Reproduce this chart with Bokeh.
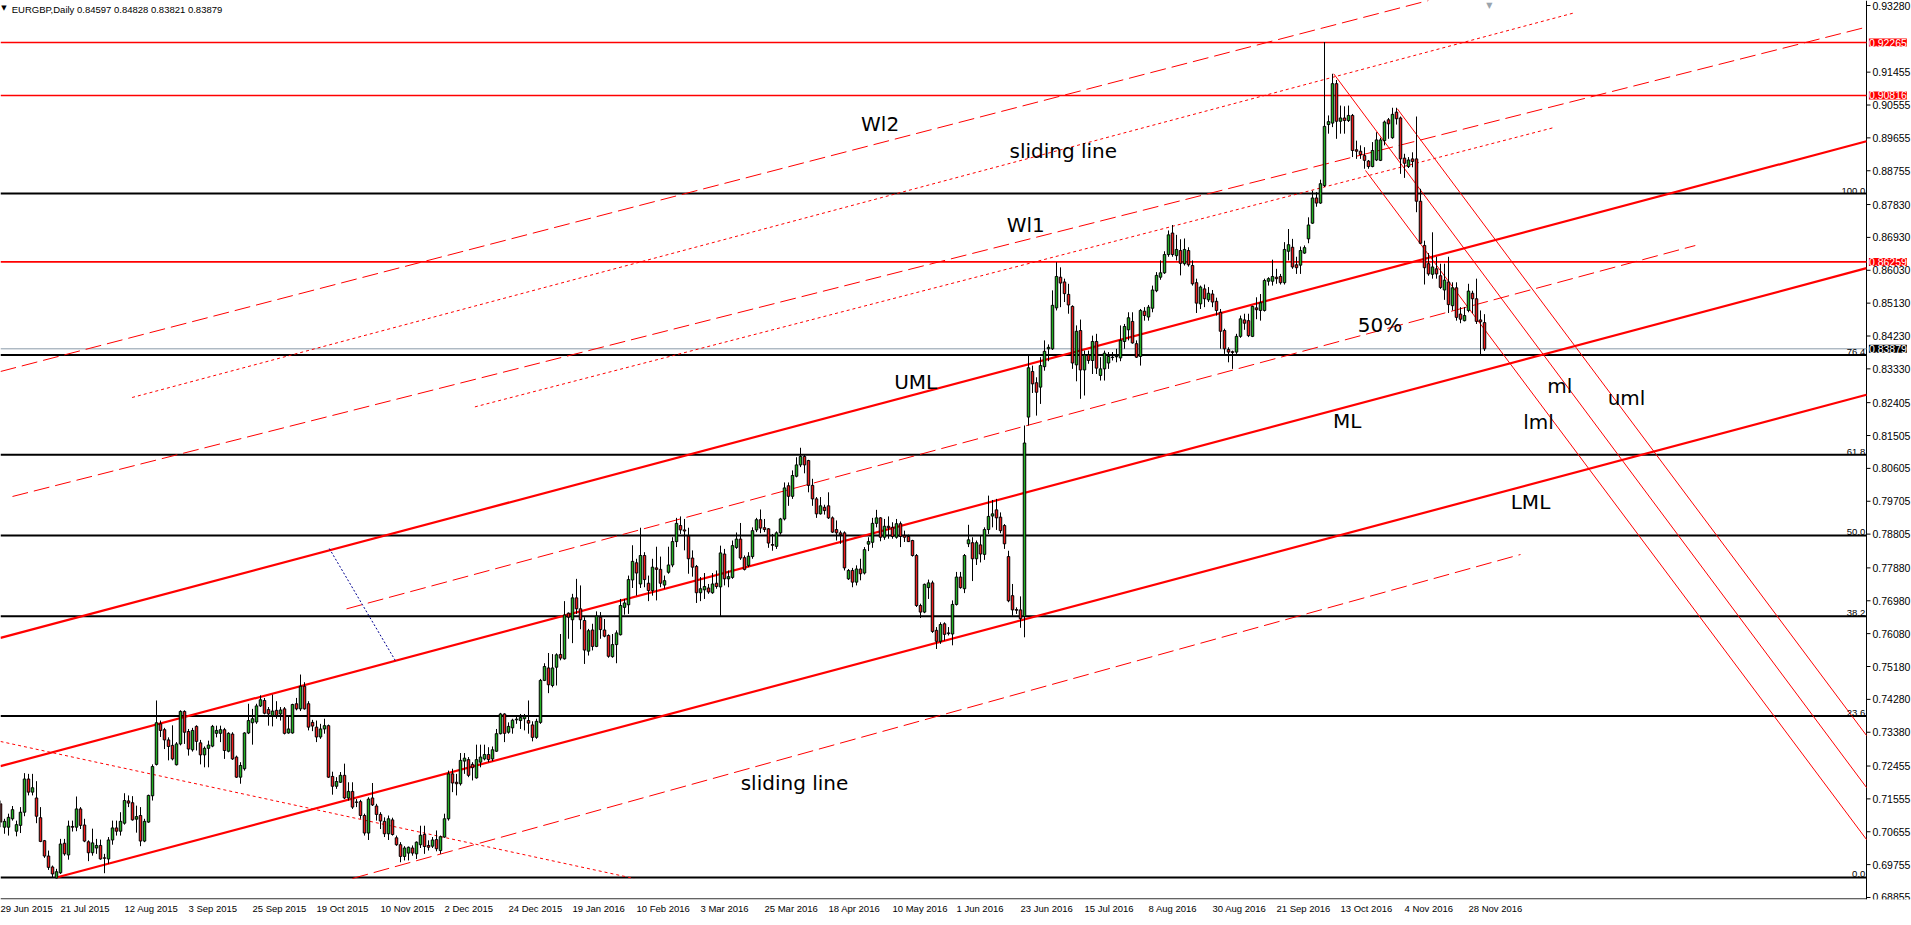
import numpy as np
import pandas as pd
from bokeh.plotting import figure
from bokeh.models import Range1d, FixedTicker, Label, ColumnDataSource
from bokeh.core.properties import value
from bokeh.embed import file_html
from bokeh.resources import INLINE

# ---------------- data ----------------
START = "2015-06-30"            # first bar on the chart (daily bars, weekdays)
HOLIDAYS = ["2015-12-25", "2016-01-01"]

opens = [
    .7142, .7078, .7078, .7101, .7067, .7083, .7119, .7210, .7174, .7158,
    .7104, .7041, .6999, .6969, .6939, .6953, .7034, .7002, .7080, .7078,
    .7128, .7084, .7038, .7008, .7021, .7028, .6994, .6991, .7043, .7076,
    .7067, .7089, .7150, .7145, .7100, .7110, .7040, .7092, .7164, .7250,
    .7361, .7345, .7317, .7302, .7249, .7306, .7395, .7340, .7290, .7354,
    .7309, .7276, .7294, .7300, .7335, .7335, .7345, .7286, .7333, .7270,
    .7215, .7238, .7336,
    .7364, .7366, .7410, .7425, .7400, .7384, .7398, .7388, .7402, .7336,
    .7336, .7416, .7402, .7464, .7416, .7365, .7352, .7325, .7347, .7356,
    .7217, .7190, .7201, .7220, .7158, .7176, .7147, .7148, .7110, .7062,
    .7158, .7136, .7113, .7094, .7060, .7098, .7049, .7030, .6998, .7007,
    .7021, .7005, .7030, .7058, .7028, .7026, .7044, .7014, .7051, .7101,
    .7224, .7201, .7197, .7259, .7263, .7250, .7213, .7256, .7265, .7277,
    .7265, .7286,
    .7334, .7388, .7338, .7350, .7372, .7370, .7375, .7370, .7358, .7324,
    .7365, .7480, .7514, .7466, .7516, .7551, .7539, .7664, .7646, .7706,
    .7676, .7644, .7560, .7618, .7573, .7653, .7618, .7603, .7545, .7578,
    .7605, .7680, .7687, .7755, .7802, .7744, .7822, .7746, .7726, .7788,
    .7784, .7741, .7776, .7796, .7860, .7904, .7892, .7875, .7815, .7792,
    .7720, .7728, .7733, .7720, .7746, .7736, .7826, .7758, .7762, .7844,
    .7867, .7816, .7795,
    .7819, .7892, .7920, .7898, .7895, .7852, .7847, .7884, .7922, .8013,
    .7984, .8039, .8070, .8093, .8082, .8014, .7977, .7936, .7954, .7958,
    .7925, .7893, .7884, .7884, .7758, .7781, .7749, .7785, .7774, .7853,
    .7858, .7910, .7925, .7872, .7902, .7899, .7872, .7909, .7877, .7874,
    .7863, .7822, .7685, .7667, .7734, .7747, .7617, .7587, .7635, .7610,
    .7607, .7688, .7763, .7731, .7854, .7857, .7813, .7851, .7825, .7893,
    .7930, .7947,
    .7927, .7904, .7819, .7712, .7674, .7673, .7655, .8201, .8326, .8295,
    .8283, .8339, .8388, .8388, .8500, .8584, .8571, .8537, .8504, .8344,
    .8438, .8330, .8371, .8356, .8408, .8315, .8333, .8349, .8365, .8366,
    .8363, .8408, .8440, .8463, .8402, .8367, .8491, .8475, .8499, .8547,
    .8584, .8596, .8646, .8705, .8643, .8657, .8621, .8657, .8616, .8569,
    .8511, .8552, .8522, .8538, .8518, .8488, .8438, .8386, .8380, .8379,
    .8422, .8467, .8465,
    .8422, .8500, .8493, .8493, .8573, .8573, .8584, .8586, .8569, .8655,
    .8666, .8618, .8617, .8650, .8689, .8732, .8801, .8787, .8835, .9002,
    .9006, .9114, .9011, .9020, .9013, .9027, .8933, .8929, .8917, .8902,
    .8887, .8905, .8904, .8958, .9015, .8966, .9036, .9020, .8910, .8887,
    .8908, .8908, .8792, .8671, .8621, .8592, .8607, .8588, .8549, .8571,
    .8506, .8555, .8483, .8465, .8493, .8540, .8525, .8467, .84597,
]

highs = [
    .7151, .7101, .7115, .7136, .7096, .7133, .7226, .7224, .7224, .7204,
    .7133, .7043, .7014, .6973, .6964, .7046, .7046, .7096, .7096, .7162,
    .7133, .7101, .7042, .7074, .7046, .7044, .7005, .7051, .7096, .7096,
    .7119, .7171, .7165, .7163, .7137, .7133, .7101, .7167, .7250, .7425,
    .7370, .7350, .7324, .7357, .7311, .7398, .7398, .7347, .7350, .7357,
    .7317, .7299, .7315, .7358, .7356, .7356, .7350, .7338, .7338, .7274,
    .7256, .7338, .7416,
    .7402, .7416, .7439, .7432, .7407, .7441, .7423, .7407, .7407, .7384,
    .7416, .7432, .7496, .7475, .7423, .7372, .7370, .7361, .7375, .7359,
    .7230, .7215, .7229, .7252, .7201, .7201, .7155, .7153, .7115, .7160,
    .7199, .7142, .7119, .7105, .7110, .7104, .7055, .7037, .7026, .7025,
    .7028, .7039, .7082, .7082, .7042, .7051, .7069, .7055, .7115, .7233,
    .7238, .7224, .7281, .7281, .7270, .7256, .7304, .7304, .7304, .7297,
    .7299, .7347,
    .7391, .7390, .7365, .7375, .7384, .7388, .7388, .7425, .7368, .7375,
    .7484, .7527, .7555, .7552, .7554, .7607, .7697, .7666, .7717, .7758,
    .7740, .7653, .7621, .7635, .7669, .7667, .7648, .7606, .7607, .7617,
    .7703, .7703, .7767, .7850, .7813, .7898, .7831, .7767, .7813, .7846,
    .7819, .7767, .7846, .7872, .7925, .7929, .7922, .7898, .7836, .7796,
    .7763, .7774, .7744, .7774, .7781, .7849, .7840, .7781, .7863, .7885,
    .7911, .7822, .7831,
    .7899, .7925, .7948, .7922, .7897, .7881, .7888, .7925, .8022, .8022,
    .8055, .8091, .8117, .8099, .8084, .8032, .7982, .7982, .7961, .7995,
    .7929, .7918, .7890, .7888, .7785, .7788, .7795, .7813, .7845, .7872,
    .7925, .7947, .7927, .7922, .7929, .7913, .7922, .7915, .7890, .7879,
    .7865, .7826, .7690, .7745, .7756, .7753, .7626, .7639, .7639, .7626,
    .7699, .7777, .7777, .7826, .7906, .7872, .7863, .7877, .7899, .7986,
    .7974, .7977,
    .7940, .7908, .7835, .7744, .7680, .7710, .8178, .8370, .8342, .8310,
    .8365, .8411, .8400, .8548, .8625, .8611, .8580, .8566, .8507, .8452,
    .8468, .8383, .8383, .8424, .8429, .8365, .8383, .8379, .8379, .8388,
    .8452, .8456, .8488, .8488, .8411, .8497, .8502, .8508, .8561, .8598,
    .8630, .8655, .8712, .8727, .8700, .8688, .8690, .8666, .8630, .8580,
    .8561, .8564, .8557, .8549, .8528, .8497, .8443, .8392, .8383, .8429,
    .8479, .8484, .8484,
    .8506, .8529, .8538, .8580, .8584, .8632, .8607, .8593, .8680, .8716,
    .8689, .8640, .8668, .8671, .8748, .8821, .8817, .8851, .9228, .9027,
    .9141, .9124, .9054, .9052, .9054, .9031, .8958, .8945, .8940, .8905,
    .8954, .8981, .8966, .9013, .9020, .9048, .9048, .9024, .8922, .8913,
    .8926, .9024, .8826, .8684, .8650, .8707, .8640, .8621, .8621, .8640,
    .8570, .8570, .8502, .8502, .8566, .8547, .8580, .8493, .84828,
]

lows = [
    .7078, .7060, .7055, .7096, .7053, .7062, .7108, .7165, .7165, .7089,
    .7037, .6994, .6961, .6939, .6938, .6950, .7000, .6989, .7066, .7067,
    .7073, .7037, .6985, .7000, .7005, .6989, .6952, .6978, .7030, .7055,
    .7055, .7085, .7133, .7096, .7063, .7026, .7037, .7090, .7151, .7247,
    .7325, .7292, .7261, .7261, .7247, .7302, .7306, .7274, .7285, .7288,
    .7250, .7242, .7242, .7297, .7324, .7311, .7265, .7283, .7262, .7213,
    .7197, .7233, .7333,
    .7304, .7361, .7407, .7387, .7356, .7354, .7375, .7370, .7332, .7334,
    .7334, .7398, .7396, .7400, .7343, .7341, .7311, .7320, .7334, .7213,
    .7167, .7183, .7199, .7155, .7151, .7128, .7133, .7101, .7055, .7043,
    .7136, .7096, .7073, .7051, .7043, .7055, .7027, .6982, .6987, .6987,
    .7000, .6991, .7021, .7005, .7014, .7021, .7012, .7005, .7049, .7096,
    .7174, .7165, .7192, .7224, .7215, .7206, .7211, .7242, .7261, .7256,
    .7259, .7284,
    .7332, .7311, .7334, .7334, .7361, .7347, .7343, .7334, .7313, .7320,
    .7361, .7478, .7445, .7461, .7466, .7535, .7537, .7594, .7582, .7662,
    .7620, .7525, .7548, .7562, .7571, .7594, .7598, .7542, .7542, .7527,
    .7603, .7660, .7662, .7733, .7712, .7733, .7735, .7697, .7712, .7699,
    .7735, .7731, .7772, .7790, .7845, .7881, .7836, .7772, .7764, .7692,
    .7697, .7703, .7717, .7717, .7731, .7656, .7740, .7735, .7758, .7840,
    .7810, .7781, .7790,
    .7813, .7886, .7883, .7886, .7843, .7835, .7840, .7879, .7918, .7958,
    .7977, .8036, .8064, .8047, .7995, .7958, .7925, .7934, .7934, .7922,
    .7884, .7863, .7854, .7781, .7755, .7735, .7740, .7754, .7770, .7834,
    .7843, .7899, .7861, .7865, .7868, .7868, .7868, .7845, .7859, .7859,
    .7819, .7681, .7651, .7664, .7703, .7610, .7566, .7580, .7589, .7603,
    .7576, .7685, .7731, .7719, .7845, .7752, .7796, .7803, .7810, .7881,
    .7899, .7892,
    .7883, .7840, .7694, .7657, .7662, .7624, .7598, .8178, .8267, .8205,
    .8237, .8328, .8354, .8385, .8493, .8502, .8516, .8484, .8333, .8299,
    .8251, .8260, .8347, .8319, .8319, .8301, .8301, .8333, .8356, .8351,
    .8354, .8388, .8411, .8402, .8363, .8342, .8465, .8465, .8488, .8543,
    .8577, .8593, .8640, .8640, .8630, .8589, .8616, .8613, .8561, .8486,
    .8497, .8502, .8516, .8502, .8479, .8388, .8374, .8351, .8333, .8374,
    .8418, .8440, .8420,
    .8420, .8469, .8465, .8490, .8561, .8561, .8566, .8564, .8564, .8630,
    .8607, .8593, .8593, .8648, .8677, .8730, .8777, .8785, .8831, .8977,
    .8995, .8963, .8977, .8977, .9009, .8913, .8908, .8908, .8881, .8881,
    .8885, .8902, .8902, .8945, .8963, .8963, .9002, .8867, .8856, .8883,
    .8885, .8762, .8675, .8564, .8588, .8580, .8580, .8552, .8522, .8486,
    .8493, .8465, .8458, .8463, .8488, .8485, .8456, .8372, .83821,
]

closes = [
    .7092, .7094, .7105, .7126, .7085, .7119, .7210, .7174, .7186, .7108,
    .7039, .6999, .6968, .6950, .6956, .7032, .7005, .7081, .7078, .7128,
    .7083, .7040, .7008, .7035, .7028, .6991, .6993, .7043, .7076, .7067,
    .7094, .7151, .7144, .7098, .7107, .7040, .7094, .7165, .7244, .7364,
    .7343, .7317, .7299, .7265, .7306, .7395, .7338, .7292, .7343, .7313,
    .7276, .7294, .7303, .7354, .7343, .7345, .7288, .7335, .7265, .7215,
    .7247, .7336, .7370,
    .7375, .7410, .7427, .7390, .7388, .7396, .7384, .7399, .7335, .7347,
    .7414, .7402, .7464, .7402, .7352, .7355, .7325, .7347, .7356, .7215,
    .7190, .7203, .7220, .7158, .7176, .7133, .7146, .7110, .7062, .7155,
    .7139, .7113, .7095, .7060, .7101, .7058, .7030, .6998, .7021, .7023,
    .7007, .7037, .7056, .7025, .7023, .7043, .7019, .7052, .7101, .7224,
    .7199, .7197, .7261, .7267, .7220, .7241, .7263, .7270, .7277, .7263,
    .7290, .7334,
    .7388, .7335, .7354, .7371, .7374, .7378, .7381, .7363, .7324, .7368,
    .7480, .7518, .7468, .7514, .7550, .7541, .7659, .7653, .7706, .7676,
    .7646, .7563, .7616, .7573, .7656, .7619, .7601, .7546, .7578, .7610,
    .7685, .7692, .7756, .7806, .7774, .7822, .7756, .7726, .7790, .7784,
    .7746, .7753, .7796, .7860, .7910, .7892, .7889, .7813, .7790, .7720,
    .7731, .7737, .7722, .7744, .7737, .7829, .7758, .7764, .7849, .7867,
    .7815, .7784, .7820,
    .7890, .7920, .7897, .7893, .7856, .7850, .7884, .7922, .8007, .7984,
    .8041, .8070, .8093, .8070, .8014, .7977, .7936, .7958, .7945, .7925,
    .7886, .7884, .7879, .7788, .7781, .7749, .7785, .7772, .7838, .7860,
    .7910, .7925, .7872, .7902, .7898, .7874, .7909, .7874, .7872, .7860,
    .7822, .7685, .7667, .7743, .7747, .7614, .7587, .7633, .7606, .7608,
    .7688, .7763, .7734, .7822, .7865, .7813, .7857, .7826, .7893, .7929,
    .7936, .7925,
    .7890, .7854, .7698, .7673, .7672, .7649, .8130, .8336, .8292, .8269,
    .8342, .8381, .8392, .8507, .8586, .8568, .8539, .8508, .8349, .8436,
    .8330, .8371, .8356, .8408, .8335, .8333, .8376, .8367, .8364, .8368,
    .8411, .8449, .8473, .8404, .8365, .8493, .8479, .8502, .8549, .8589,
    .8596, .8646, .8700, .8646, .8660, .8622, .8660, .8618, .8566, .8513,
    .8557, .8525, .8540, .8516, .8493, .8436, .8388, .8379, .8378, .8422,
    .8470, .8458, .8424,
    .8504, .8495, .8514, .8575, .8580, .8586, .8580, .8569, .8660, .8673,
    .8612, .8610, .8657, .8665, .8727, .8801, .8787, .8840, .8997, .9010,
    .9114, .9011, .9020, .9013, .9027, .8931, .8929, .8920, .8904, .8887,
    .8931, .8960, .8960, .9009, .9004, .9030, .9018, .8908, .8896, .8905,
    .8901, .8792, .8677, .8610, .8593, .8612, .8593, .8556, .8576, .8509,
    .8555, .8474, .8469, .8479, .8546, .8525, .8463, .8462, .83879,
]

price_ticks = [0.93280, 0.91455, 0.90555, 0.89655, 0.88755, 0.87830, 0.86930,
               0.86030, 0.85130, 0.84230, 0.83330, 0.82405, 0.81505, 0.80605,
               0.79705, 0.78805, 0.77880, 0.76980, 0.76080, 0.75180, 0.74280,
               0.73380, 0.72455, 0.71555, 0.70655, 0.69755, 0.68855]

date_labels = ["29 Jun 2015", "21 Jul 2015", "12 Aug 2015", "3 Sep 2015",
               "25 Sep 2015", "19 Oct 2015", "10 Nov 2015", "2 Dec 2015",
               "24 Dec 2015", "19 Jan 2016", "10 Feb 2016", "3 Mar 2016",
               "25 Mar 2016", "18 Apr 2016", "10 May 2016", "1 Jun 2016",
               "23 Jun 2016", "15 Jul 2016", "8 Aug 2016", "30 Aug 2016",
               "21 Sep 2016", "13 Oct 2016", "4 Nov 2016", "28 Nov 2016"]

fib_low, fib_high = 0.69403, 0.88132
fib_ratios = [0.0, 23.6, 38.2, 50.0, 61.8, 76.4, 100.0]
red_levels = [0.92265, 0.90816, 0.86259]
last_price = 0.83879
title_text = "EURGBP,Daily  0.84597 0.84828 0.83821 0.83879"

# trend lines: ([bar position start, end], [price start, end])
fork_up = {
    "UML": ([0, 466.5], [0.75964, 0.89564]),
    "ML": ([0, 466.5], [0.72451, 0.86087]),
    "LML": ([14, 466.5], [0.69403, 0.82620]),
}
fork_down = {
    "ml": ([333.3, 466.5], [0.91410, 0.71867]),
    "uml": ([349.2, 466.5], [0.90452, 0.73291]),
    "lml": ([341.25, 466.5], [0.88762, 0.70443]),
}
dashed_lines = {
    "Wl2": ([0, 357], [0.83258, 0.93417]),
    "Wl1": ([3, 466.5], [0.79836, 0.92689]),
    "half": ([86.5, 423.7], [0.76758, 0.86708]),
    "slide_low": ([88, 380], [0.69376, 0.78247]),
}
dotted_lines = {
    "slide_a": ([32.9, 393.75], [0.82546, 0.93088]),
    "slide_b": ([118.6, 388.4], [0.82289, 0.89939]),
    "down": ([0, 158.4], [0.73127, 0.69376]),
}
blue_line = ([82.2, 98.75], [0.78412, 0.75334])

notes = [("Wl2", 219.9, 0.90035), ("sliding line", 265.7, 0.89300),
         ("Wl1", 256.3, 0.87256), ("UML", 228.8, 0.82984),
         ("50%", 344.9, 0.84532), ("ML", 336.7, 0.81903),
         ("ml", 389.8, 0.82861), ("uml", 406.5, 0.82535),
         ("lml", 384.5, 0.81875), ("LML", 382.5, 0.79671),
         ("sliding line", 198.5, 0.71980)]

# ---------------- figure ----------------
AX = 466.5                      # right edge of the chart area (price scale starts here)
Y_LO, Y_HI = 0.68800, 0.93417
W, H = 1911, 925
BOTTOM = 26
ppu = 4.0                       # pixels per bar
X_END = W / ppu
pxp = (H - BOTTOM) / (Y_HI - Y_LO)   # pixels per price unit

p = figure(width=W, height=H, x_range=Range1d(0, X_END), y_range=Range1d(Y_LO, Y_HI),
           output_backend="svg", toolbar_location=None, y_axis_location=None,
           min_border_left=0, min_border_right=0, min_border_top=0,
           min_border_bottom=BOTTOM)
p.outline_line_color = None
p.grid.visible = False
p.background_fill_color = "white"
p.border_fill_color = "white"

# bottom date axis: labels start at the bar of their date
CW = {" ": .278, "J": .5, "u": .556, "l": .222, "A": .667, "g": .556, "S": .667,
      "e": .556, "p": .556, "O": .778, "c": .5, "t": .278, "N": .722, "o": .556,
      "v": .5, "D": .722, "a": .556, "F": .611, "b": .556, "M": .833, "r": .333,
      "y": .5, "n": .556}
DATE_FS = 9.5


def text_w(s, fs):
    return fs * sum(CW.get(ch, .556) for ch in s)


ticks, overrides = [], {}
for lbl in date_labels:
    d = pd.to_datetime(lbl).strftime("%Y-%m-%d")
    pos = int(np.busday_count(START, d, holidays=HOLIDAYS))
    t = round(pos + text_w(lbl, DATE_FS) / 2 / ppu, 3)
    ticks.append(t)
    overrides[t] = lbl
p.xaxis.ticker = FixedTicker(ticks=ticks)
p.xaxis.major_label_overrides = overrides
p.xaxis.major_label_text_font = "Liberation Sans"
p.xaxis.major_label_text_font_size = f"{DATE_FS}px"
p.xaxis.major_label_text_color = "black"
p.xaxis.major_tick_line_color = None
p.xaxis.major_tick_out = 0
p.xaxis.major_tick_in = 0
p.xaxis.minor_tick_line_color = None
p.xaxis.axis_line_color = None
p.xaxis.major_label_standoff = 3

# chart frame lines (bottom edge and price scale line)
p.line([0, AX], [Y_LO + 0.6 / pxp, Y_LO + 0.6 / pxp], line_color="black", line_width=1)
p.line([AX, AX], [Y_LO, Y_HI], line_color="black", line_width=1)

# price scale: ticks and labels
n_t = len(price_ticks)
p.segment(x0=[AX] * n_t, y0=price_ticks, x1=[AX + 4 / ppu] * n_t, y1=price_ticks,
          line_color="black", line_width=1)
p.text(x=[AX + 6 / ppu] * n_t, y=price_ticks, text=[f"{v:.5f}" for v in price_ticks],
       text_font=value("Liberation Sans"), text_font_size="10.5px",
       text_align="left", text_baseline="middle", text_color="black")

# horizontal levels
for r in fib_ratios:
    lv = fib_low + (fib_high - fib_low) * r / 100.0
    p.line([0, AX], [lv, lv], line_color="black", line_width=2)
    p.add_layout(Label(x=AX - 0.3, y=lv, text=f"{r:.1f}", text_align="right",
                       text_baseline="bottom", text_font="Liberation Sans",
                       text_font_size="9.5px", text_color="black"))
for lv in red_levels:
    p.line([0, AX], [lv, lv], line_color="#ff0000", line_width=1.6)
p.line([0, AX], [last_price, last_price], line_color="#8a9aa8", line_width=1)

# trend lines
for xs, ys in fork_up.values():
    p.line(xs, ys, line_color="#ff0000", line_width=2.2)
for xs, ys in fork_down.values():
    p.line(xs, ys, line_color="#ff0000", line_width=1)
for xs, ys in dashed_lines.values():
    p.line(xs, ys, line_color="#ff0000", line_width=1, line_dash="16 6")
for xs, ys in dotted_lines.values():
    p.line(xs, ys, line_color="#ff0000", line_width=1, line_dash="3 3")
p.line(blue_line[0], blue_line[1], line_color="#000090", line_width=1, line_dash="2 2")

# candles
n = min(len(opens), len(highs), len(lows), len(closes))
tops, bots, cols = [], [], []
for i in range(n):
    o, c = opens[i], closes[i]
    t, b = max(o, c), min(o, c)
    if t - b < 0.00006:
        t, b = t + 0.00003, b - 0.00003
    tops.append(t)
    bots.append(b)
    cols.append("#22b022" if c >= o else "#ee1c1c")
src = ColumnDataSource(dict(x=list(range(n)), h=highs[:n], l=lows[:n],
                            top=tops, bottom=bots, color=cols))
p.segment(x0="x", y0="l", x1="x", y1="h", source=src, line_color="black", line_width=1)
p.vbar(x="x", width=0.62, top="top", bottom="bottom", fill_color="color",
       line_color="black", line_width=1, source=src)

# text notes
for txt, x, y in notes:
    p.add_layout(Label(x=x, y=y, text=txt, text_align="center", text_baseline="middle",
                       text_font="DejaVu Sans", text_font_size="20px", text_color="black"))

# title line
p.add_layout(Label(x=0.2, y=Y_HI - 7 / pxp, text="\u25bc", text_font="DejaVu Sans",
                   text_font_size="7px", text_baseline="middle", text_color="black"))
p.add_layout(Label(x=2.8, y=Y_HI - 9 / pxp, text=title_text, text_font="Liberation Sans",
                   text_font_size="9.5px", text_baseline="middle", text_color="black"))
p.add_layout(Label(x=372.2, y=Y_HI - 5 / pxp, text="\u25bc", text_font="DejaVu Sans",
                   text_font_size="8px", text_baseline="middle", text_align="center",
                   text_color="#9aa4ad"))

# price tags on the price scale
for lv, bg in [(v, "#ff0000") for v in red_levels] + [(last_price, "black")]:
    p.add_layout(Label(x=AX + 0.6, y=lv, text=f"{lv:.5f}", text_align="left",
                       text_baseline="middle", text_font="Liberation Sans",
                       text_font_size="10.5px", text_color="white",
                       background_fill_color=bg))

open("out.html", "w").write(file_html(p, INLINE))
